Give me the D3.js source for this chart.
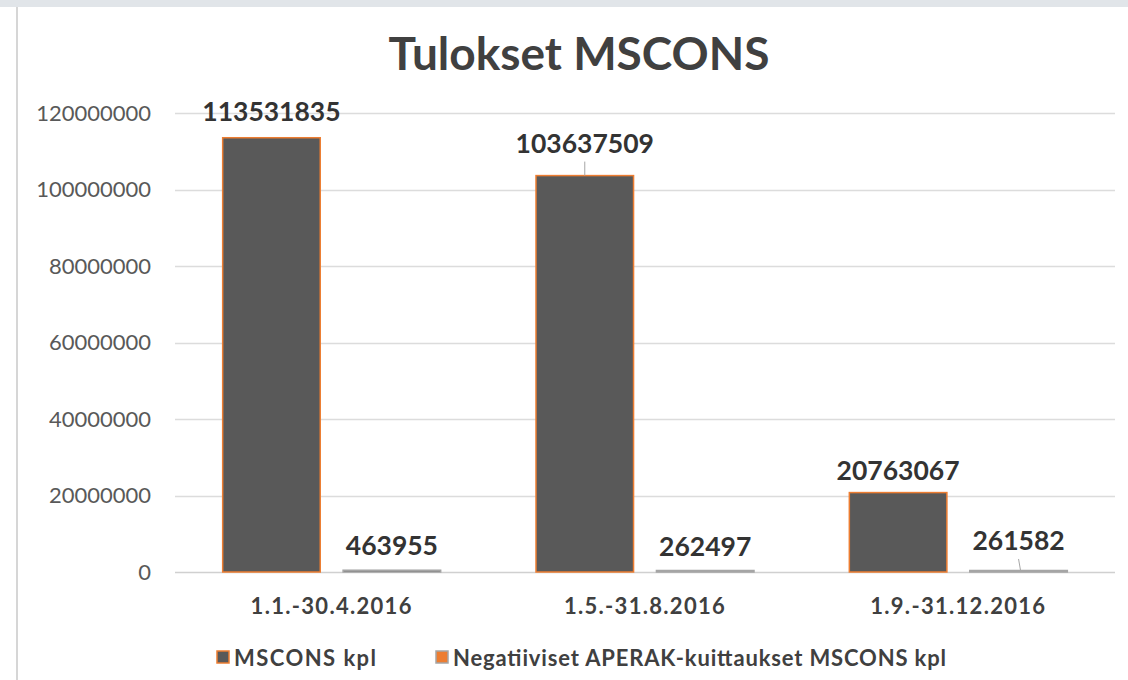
<!DOCTYPE html>
<html>
<head>
<meta charset="utf-8">
<script src="https://cdn.jsdelivr.net/npm/d3@7"></script>
<style>
  body { margin: 0; background: #ffffff; }
  svg { display: block; font-family: Lato, "Open Sans", sans-serif; }
</style>
</head>
<body>
<svg id="chart" width="1128" height="680"></svg>
<script>
// data
var categories = ["1.1.-30.4.2016", "1.5.-31.8.2016", "1.9.-31.12.2016"]
var seriesNames = ["MSCONS kpl", "Negatiiviset APERAK-kuittaukset MSCONS kpl"]
var msconsValues = [113531835, 103637509, 20763067]
var aperakValues = [463955, 262497, 261582]
var yTicks = [0, 20000000, 40000000, 60000000, 80000000, 100000000, 120000000]

var fills = ["#595959", "#595959"]
var strokes = ["#ed7d31", "#a5a5a5"]
// how far each value label sits above its bar (per series, per category)
var labelGap = [[17, 23, 13], [15, 15, 21]]

var svg = d3.select("#chart")

// frame: grey band on top, thin line on the left
svg.append("rect").attr("x", 0).attr("y", 0).attr("width", 1128).attr("height", 7).attr("fill", "#e1e5e9")
svg.append("rect").attr("x", 16).attr("y", 7).attr("width", 2).attr("height", 673).attr("fill", "#d6d6d6")

var plot = {left: 175, right: 1115, top: 113, bottom: 572}

var y = d3.scaleLinear().domain([0, 120000000]).range([plot.bottom, plot.top])
var x0 = d3.scaleBand().domain(categories).range([plot.left, plot.right])
var groupW = 218
var off = (x0.bandwidth() - groupW) / 2
var x1 = d3.scaleBand().domain(seriesNames).range([off, off + groupW]).paddingInner(0.19)

// title
svg.append("text")
  .attr("x", 579).attr("y", 70)
  .attr("text-anchor", "middle")
  .attr("font-size", 46).attr("font-weight", "bold")
  .attr("fill", "#404040")
  .text("Tulokset MSCONS")

// gridlines
svg.append("g").selectAll("line").data(yTicks).join("line")
  .attr("x1", plot.left).attr("x2", plot.right)
  .attr("y1", function(d){ return Math.round(y(d)) + 0.5 })
  .attr("y2", function(d){ return Math.round(y(d)) + 0.5 })
  .attr("stroke", function(d){ return d === 0 ? "#d0d0d0" : "#dcdcdc" })
  .attr("stroke-width", 1.5)

// y axis labels
var yAxis = d3.axisLeft(y).tickValues(yTicks).tickSize(0).tickPadding(0).tickFormat(d3.format("d"))
var ya = svg.append("g").attr("transform", "translate(151,0)").call(yAxis)
ya.select(".domain").remove()
ya.selectAll("text").attr("font-size", 22).attr("fill", "#595959").attr("font-family", "Lato, 'Open Sans', sans-serif")

// x axis labels
var xAxis = d3.axisBottom(x0).tickSize(0).tickPadding(0)
var xa = svg.append("g").attr("transform", "translate(0,598)").call(xAxis)
xa.select(".domain").remove()
xa.selectAll("text")
  .attr("font-size", 22).attr("font-weight", "bold").attr("fill", "#404040")
  .attr("letter-spacing", 1.3)
  .attr("font-family", "Lato, 'Open Sans', sans-serif")

// bars
var rows = categories.map(function(c, i){
  return {cat: c, i: i, values: [msconsValues[i], aperakValues[i]]}
})

function cells(d){
  return d.values.map(function(v, j){ return {key: seriesNames[j], value: v, j: j, i: d.i} })
}

var groups = svg.append("g").selectAll("g").data(rows).join("g")
  .attr("transform", function(d){ return "translate(" + x0(d.cat) + ",0)" })

groups.selectAll("rect").data(cells).join("rect")
  .attr("x", function(d){ return x1(d.key) })
  .attr("width", x1.bandwidth())
  .attr("y", function(d){ return Math.min(y(d.value), plot.bottom - 1.5) })
  .attr("height", function(d){ return Math.max(plot.bottom - y(d.value), 1.5) })
  .attr("fill", function(d){ return fills[d.j] })
  .attr("stroke", function(d){ return strokes[d.j] })
  .attr("stroke-width", 1.5)

// leader lines for labels lifted further off their bars
groups.selectAll("line.leader").data(function(d){
    return cells(d).filter(function(c){ return labelGap[c.j][c.i] > 20 })
  }).join("line")
  .attr("class", "leader")
  .attr("x1", function(d){ return x1(d.key) + x1.bandwidth() / 2 })
  .attr("x2", function(d){ return x1(d.key) + x1.bandwidth() / 2 + (d.j === 1 ? 2 : 0) })
  .attr("y1", function(d){ return y(d.value) - labelGap[d.j][d.i] + 9 })
  .attr("y2", function(d){ return Math.min(y(d.value), plot.bottom - 1.5) })
  .attr("stroke", "#a6a6a6").attr("stroke-width", 1)

// value labels
groups.selectAll("text.val").data(cells).join("text")
  .attr("class", "val")
  .attr("x", function(d){ return x1(d.key) + x1.bandwidth() / 2 })
  .attr("y", function(d){ return y(d.value) - labelGap[d.j][d.i] })
  .attr("text-anchor", "middle")
  .attr("font-size", 26.5).attr("font-weight", "bold")
  .attr("fill", "#333333")
  .text(function(d){ return d.value })

// legend
var legendX = [217, 436]
var legendTextW = [142, 493]
var leg = svg.append("g").selectAll("g").data(seriesNames).join("g")
  .attr("transform", function(d, i){ return "translate(" + legendX[i] + ",651)" })
leg.append("rect")
  .attr("width", 12).attr("height", 12)
  .attr("fill", function(d, i){ return i === 0 ? "#595959" : "#ed7d31" })
  .attr("stroke", function(d, i){ return i === 0 ? "#ed7d31" : "#a5a5a5" })
  .attr("stroke-width", 1.5)
leg.append("text")
  .attr("x", 17).attr("y", 15)
  .attr("font-size", 22).attr("font-weight", "bold")
  .attr("fill", "#404040")
  .attr("textLength", function(d, i){ return legendTextW[i] })
  .attr("lengthAdjust", "spacing")
  .text(function(d){ return d })
</script>
</body>
</html>
